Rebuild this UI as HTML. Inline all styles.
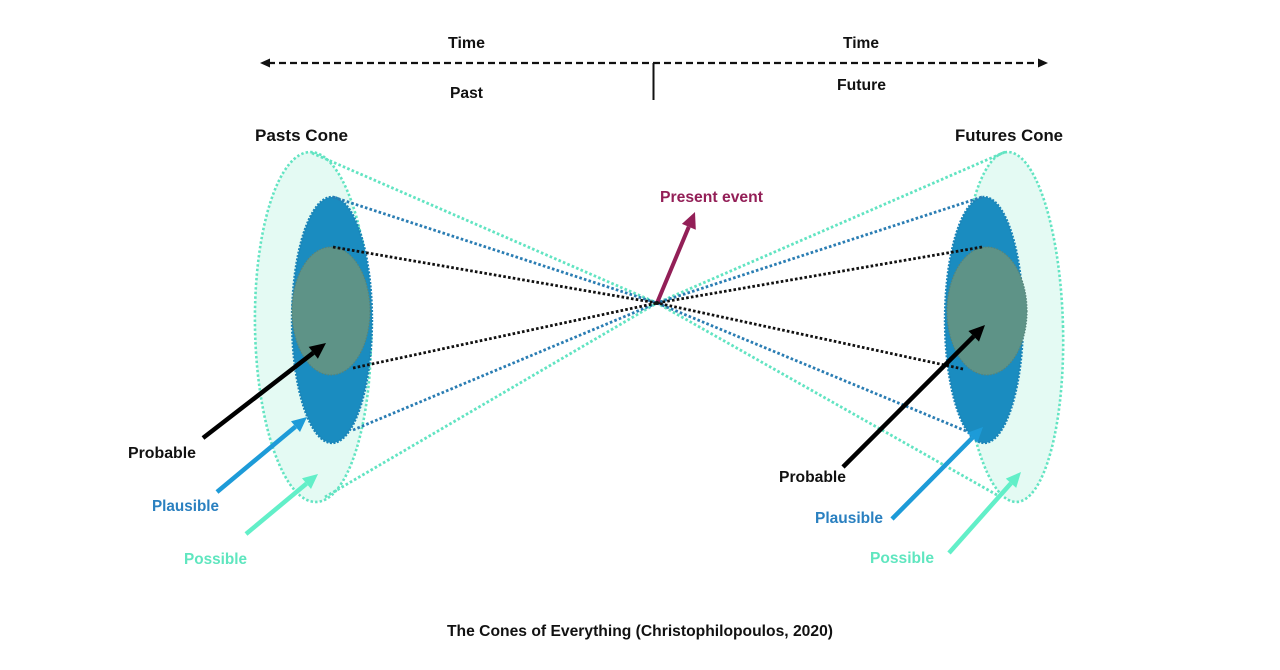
<!DOCTYPE html>
<html><head><meta charset="utf-8"><style>
html,body{margin:0;padding:0;background:#fff;}
svg{display:block;}
text{font-family:"Liberation Sans",Arial,sans-serif;font-weight:bold;}
</style></head><body>
<svg width="1280" height="670" viewBox="0 0 1280 670" xmlns="http://www.w3.org/2000/svg">
<rect width="1280" height="670" fill="#fff"/>
<!-- timeline -->
<line x1="268" y1="63" x2="1040" y2="63" stroke="#111" stroke-width="2.2" stroke-dasharray="7 4"/>
<polygon points="260,63 270,58.5 270,67.5" fill="#111"/>
<polygon points="1048,63 1038,58.5 1038,67.5" fill="#111"/>
<line x1="653.5" y1="63" x2="653.5" y2="100" stroke="#111" stroke-width="2"/>
<text x="448" y="48" font-size="15.5" fill="#111" textLength="37" lengthAdjust="spacingAndGlyphs">Time</text>
<text x="843" y="48" font-size="15.5" fill="#111" textLength="36" lengthAdjust="spacingAndGlyphs">Time</text>
<text x="450" y="98" font-size="15.5" fill="#111" textLength="33" lengthAdjust="spacingAndGlyphs">Past</text>
<text x="837" y="90" font-size="15.5" fill="#111" textLength="49" lengthAdjust="spacingAndGlyphs">Future</text>
<text x="255" y="141" font-size="17" fill="#111" textLength="93" lengthAdjust="spacingAndGlyphs">Pasts Cone</text>
<text x="955" y="141" font-size="17" fill="#111" textLength="108" lengthAdjust="spacingAndGlyphs">Futures Cone</text>

<!-- left cone ellipses -->
<ellipse cx="313" cy="327" rx="58" ry="175" transform="rotate(-1 313 327)" fill="#e4faf3" stroke="#62e4c2" stroke-width="2.6" stroke-dasharray="2.4 2.2"/>
<ellipse cx="332" cy="320" rx="40" ry="123" fill="#1a8cc0" stroke="#1a84b8" stroke-width="2.4" stroke-dasharray="2 1.5"/>
<ellipse cx="331" cy="311" rx="39" ry="64" fill="#5e9387" stroke="#55837a" stroke-width="1.2" stroke-dasharray="1.5 1.5"/>

<!-- right cone ellipses -->
<ellipse cx="1012" cy="327" rx="51" ry="175" transform="rotate(-1.5 1012 327)" fill="#e4faf3" stroke="#62e4c2" stroke-width="2.6" stroke-dasharray="2.4 2.2"/>
<ellipse cx="984" cy="320" rx="39" ry="123" fill="#1a8cc0" stroke="#1a84b8" stroke-width="2.4" stroke-dasharray="2 1.5"/>
<ellipse cx="987" cy="311" rx="40" ry="64" fill="#5e9387" stroke="#55837a" stroke-width="1.2" stroke-dasharray="1.5 1.5"/>

<!-- dotted cone lines -->
<g fill="none" stroke-width="2.8" stroke-dasharray="2.6 2.2">
<line x1="312" y1="153" x2="657" y2="303" stroke="#62e4c2"/>
<line x1="325" y1="497" x2="657" y2="303" stroke="#62e4c2"/>
<line x1="1005" y1="152" x2="657" y2="303" stroke="#62e4c2"/>
<line x1="997" y1="495" x2="657" y2="303" stroke="#62e4c2"/>
<line x1="333" y1="197" x2="657" y2="303" stroke="#2a7db3"/>
<line x1="353" y1="430" x2="657" y2="303" stroke="#2a7db3"/>
<line x1="982" y1="197" x2="657" y2="303" stroke="#2a7db3"/>
<line x1="966" y1="431" x2="657" y2="303" stroke="#2a7db3"/>
<line x1="333" y1="247" x2="657" y2="303" stroke="#111"/>
<line x1="353" y1="368" x2="657" y2="303" stroke="#111"/>
<line x1="982" y1="247" x2="657" y2="303" stroke="#111"/>
<line x1="963" y1="369" x2="657" y2="303" stroke="#111"/>
</g>

<!-- present event arrow -->
<line x1="657" y1="303" x2="688.8" y2="226.8" stroke="#931f57" stroke-width="4"/>
<polygon points="695,212 695.8,229.7 681.9,223.9" fill="#931f57"/>
<text x="660" y="202" font-size="15.5" fill="#931f57" textLength="103" lengthAdjust="spacingAndGlyphs">Present event</text>
<circle cx="657" cy="303" r="2" fill="#111"/>

<!-- left arrows -->
<line x1="203" y1="438" x2="313.3" y2="352.8" stroke="#000" stroke-width="4.5"/>
<polygon points="326,343 317.9,358.7 308.7,346.9" fill="#000"/>
<line x1="217" y1="492" x2="295.5" y2="426.6" stroke="#1d9bd8" stroke-width="4.5"/>
<polygon points="307,417 300,432 291,421.2" fill="#1d9bd8"/>
<line x1="246" y1="534" x2="306.5" y2="483.6" stroke="#62efc8" stroke-width="4.5"/>
<polygon points="318,474 311,489 302,478.2" fill="#62efc8"/>

<!-- right arrows -->
<line x1="843" y1="467" x2="973.7" y2="336.3" stroke="#000" stroke-width="4.5"/>
<polygon points="985,325 979,341.6 968.4,331" fill="#000"/>
<line x1="892" y1="519" x2="972.5" y2="437.7" stroke="#1d9bd8" stroke-width="4.5"/>
<polygon points="983,427 977.4,442.6 967.5,432.7" fill="#1d9bd8"/>
<line x1="949" y1="553" x2="1011" y2="483.2" stroke="#62efc8" stroke-width="4.5"/>
<polygon points="1021,472 1016.2,487.9 1005.8,478.6" fill="#62efc8"/>

<!-- labels -->
<text x="128" y="458" font-size="15.5" fill="#111" textLength="68" lengthAdjust="spacingAndGlyphs">Probable</text>
<text x="152" y="511" font-size="15.5" fill="#2a80c0" textLength="67" lengthAdjust="spacingAndGlyphs">Plausible</text>
<text x="184" y="564" font-size="15.5" fill="#5fe6bf" textLength="63" lengthAdjust="spacingAndGlyphs">Possible</text>
<text x="779" y="482" font-size="15.5" fill="#111" textLength="67" lengthAdjust="spacingAndGlyphs">Probable</text>
<text x="815" y="523" font-size="15.5" fill="#2a80c0" textLength="68" lengthAdjust="spacingAndGlyphs">Plausible</text>
<text x="870" y="563" font-size="15.5" fill="#5fe6bf" textLength="64" lengthAdjust="spacingAndGlyphs">Possible</text>

<text x="447" y="636" font-size="15.5" fill="#111" textLength="386" lengthAdjust="spacingAndGlyphs">The Cones of Everything (Christophilopoulos, 2020)</text>
</svg>
</body></html>
